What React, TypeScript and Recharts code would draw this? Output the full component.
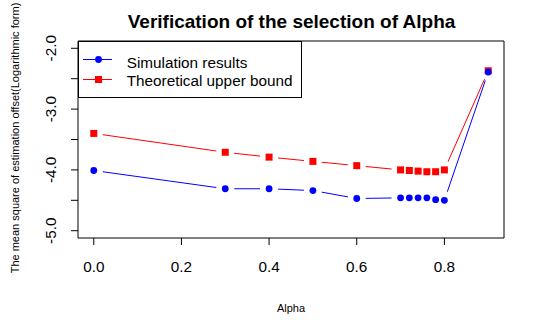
import React from 'react';
import { ComposedChart, Scatter, XAxis, YAxis, Legend, ReferenceArea } from 'recharts';

const alpha = [0, 0.3, 0.4, 0.5, 0.6, 0.7, 0.72, 0.74, 0.76, 0.78, 0.8, 0.9];
const simulation = [-4.01, -4.31, -4.31, -4.34, -4.47, -4.46, -4.46, -4.46, -4.46, -4.49, -4.5, -2.39];
const theoretical = [-3.4, -3.71, -3.79, -3.86, -3.93, -4.0, -4.01, -4.02, -4.03, -4.03, -4.0, -2.37];

const xTicks = [0, 0.2, 0.4, 0.6, 0.8];
const yTicks = [-5, -4.5, -4, -3.5, -3, -2.5, -2];
const xDomain = [-0.036, 0.936];
const yDomain = [-5.12, -1.88];

const FONT = '"Liberation Sans", Arial, sans-serif';
const BLUE = '#0000ff';
const RED = '#ff0000';
const GAP = 9;

const data = alpha.map((a, i) => ({ alpha: a, sim: simulation[i], theo: theoretical[i] }));

// R type="b": segments between points, stopping short of each marker
const gappedLine = (color: string) => (props: any) => {
  const pts = (props.points || []).filter((p: any) => p.x != null && p.y != null);
  const segs: any[] = [];
  for (let i = 1; i < pts.length; i++) {
    const a = pts[i - 1];
    const b = pts[i];
    const dx = b.x - a.x;
    const dy = b.y - a.y;
    const len = Math.hypot(dx, dy);
    if (len <= GAP * 2) continue;
    const ux = dx / len;
    const uy = dy / len;
    segs.push(
      <line
        key={i}
        x1={a.x + ux * GAP}
        y1={a.y + uy * GAP}
        x2={b.x - ux * GAP}
        y2={b.y - uy * GAP}
        stroke={color}
        strokeWidth={1}
      />
    );
  }
  return <g>{segs}</g>;
};

const circleShape = (props: any) => (
  <circle cx={props.cx} cy={props.cy} r={3.4} fill={BLUE} stroke="none" />
);
const squareShape = (props: any) => (
  <rect x={props.cx - 3.5} y={props.cy - 3.5} width={7} height={7} fill={RED} stroke="none" />
);

const YTick = (props: any) => {
  const { x, y, payload } = props;
  if (!Number.isInteger(payload.value)) return <g />;
  return (
    <text
      transform={`translate(${x - 13}, ${y}) rotate(-90)`}
      textAnchor="middle"
      fontSize={15.3}
      fontFamily={FONT}
      fill="#000"
    >
      {payload.value.toFixed(1)}
    </text>
  );
};

const LegendBox = () => (
  <svg width={224} height={57} style={{ display: 'block' }}>
    <rect x={0.5} y={0.5} width={223} height={56} fill="#fff" stroke="#000" />
    <line x1={5} x2={34} y1={18.5} y2={18.5} stroke={BLUE} />
    <circle cx={20.5} cy={18.5} r={3.4} fill={BLUE} />
    <line x1={5} x2={34} y1={38.5} y2={38.5} stroke={RED} />
    <rect x={17} y={35} width={7} height={7} fill={RED} />
    <text x={48.7} y={26.5} fontSize={15.3} fontFamily={FONT} fill="#000">Simulation results</text>
    <text x={48.7} y={45} fontSize={15.3} fontFamily={FONT} fill="#000">Theoretical upper bound</text>
  </svg>
);

export default function App() {
  return (
    <div style={{ position: 'absolute', left: 0, top: 0, background: '#fff' }}>
      <ComposedChart
        width={545}
        height={336}
        data={data}
        margin={{ top: 41, right: 41, bottom: 68, left: 8 }}
      >
        <text x={291.5} y={27.7} textAnchor="middle" fontSize={19} fontWeight="bold" fontFamily={FONT} fill="#000">
          Verification of the selection of Alpha
        </text>
        <text x={291} y={311.7} textAnchor="middle" fontSize={11} fontFamily={FONT} fill="#000">
          Alpha
        </text>
        <text
          transform="translate(18.5, 138) rotate(-90)"
          textAnchor="middle"
          fontSize={11}
          fontFamily={FONT}
          fill="#000"
        >
          The mean square of estimation offset(Logarithmic form)
        </text>
        <XAxis
          dataKey="alpha"
          type="number"
          domain={xDomain}
          ticks={xTicks}
          allowDataOverflow
          height={30}
          axisLine={false}
          tickLine={{ stroke: '#000' }}
          tickSize={7}
          tickMargin={16}
          tick={{ fill: '#000', fontSize: 15.3, fontFamily: FONT }}
          tickFormatter={(v: number) => v.toFixed(1)}
        />
        <YAxis
          type="number"
          domain={yDomain}
          ticks={yTicks}
          allowDataOverflow
          width={70}
          axisLine={false}
          tickLine={{ stroke: '#000' }}
          tickSize={7}
          tick={<YTick />}
          interval={0}
        />
        <ReferenceArea x1={xDomain[0]} x2={xDomain[1]} y1={yDomain[0]} y2={yDomain[1]} fill="none" stroke="#000" strokeOpacity={1} fillOpacity={0} />
        <Scatter dataKey="theo" line={gappedLine(RED)} lineType="joint" shape={squareShape} fill={RED} isAnimationActive={false} legendType="none" />
        <Scatter dataKey="sim" line={gappedLine(BLUE)} lineType="joint" shape={circleShape} fill={BLUE} isAnimationActive={false} legendType="none" />
        <Legend
          content={<LegendBox />}
          layout="horizontal"
          verticalAlign="middle"
          align="center"
          wrapperStyle={{ left: 78, top: 41, width: 224, height: 57 }}
        />
      </ComposedChart>
    </div>
  );
}
